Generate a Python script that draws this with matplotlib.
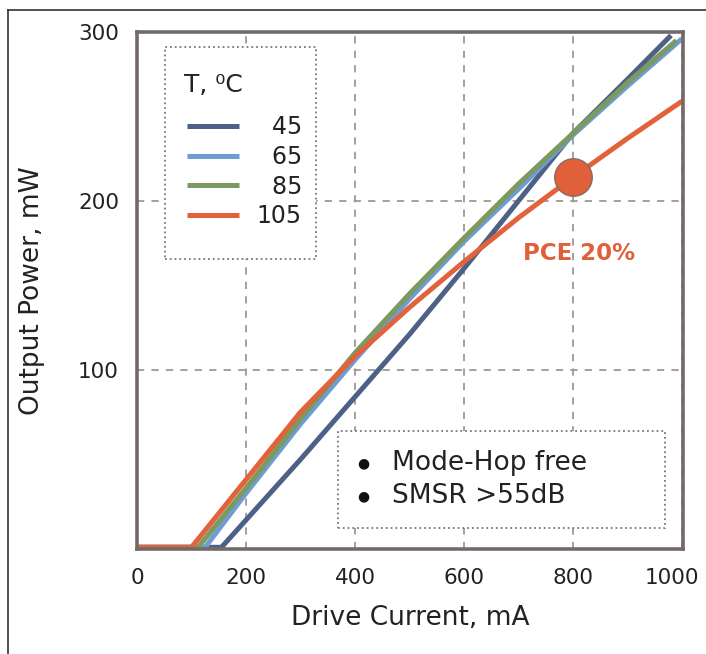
import matplotlib
matplotlib.use("Agg")
import matplotlib.pyplot as plt
from matplotlib.patches import Rectangle
from matplotlib.lines import Line2D
from matplotlib.transforms import offset_copy

plt.rcParams['font.family'] = ['DejaVu Sans']

# Data
temps = ['45', '65', '85', '105']
cur_45 = [0, 155, 300, 400, 500, 600, 700, 800, 900, 980]
pow_45 = [-5, -5, 47, 84, 121, 160, 200, 240, 272, 298]
cur_65 = [0, 125, 200, 300, 400, 500, 600, 700, 800, 900, 1000]
pow_65 = [-5, -5, 27, 68, 106, 142, 176, 207, 239, 268, 296]
cur_85 = [0, 112, 200, 300, 400, 500, 600, 700, 800, 900, 990]
pow_85 = [-5, -5, 30, 71, 110, 145, 178, 210, 240, 270, 295]
cur_105 = [0, 100, 200, 300, 400, 500, 600, 700, 800, 900, 1000]
pow_105 = [-5, -5, 35, 75, 108, 137, 164, 190, 214, 237, 259]
pce_point = (800, 214)
x_ticks = [0, 200, 400, 600, 800, 1000]
y_ticks = [100, 200, 300]
notes = ['Mode-Hop free', 'SMSR >55dB']
colors = ['#4d6186', '#6f9cd3', '#7a9a60', '#e2623c']

fig = plt.figure(figsize=(7.06, 6.54), dpi=100)
W, H = 706, 654
ax = fig.add_axes([137 / W, 1 - 549 / H, (683 - 137) / W, (549 - 32) / H])

# outer frame (left and top edges visible)
fig.add_artist(Line2D([8 / W, 8 / W], [0, 1 - 10 / H], transform=fig.transFigure, color='#333333', lw=1.2))
fig.add_artist(Line2D([8 / W, 1], [1 - 10 / H, 1 - 10 / H], transform=fig.transFigure, color='#333333', lw=1.2))

series = [(cur_45, pow_45), (cur_65, pow_65), (cur_85, pow_85), (cur_105, pow_105)]
handles = []
for (c, p), col, t in zip(series, colors, temps):
    h, = ax.plot(c, p, color=col, lw=3.6, solid_capstyle='butt', solid_joinstyle='round', label=t)
    handles.append(h)

ax.plot([pce_point[0]], [pce_point[1]], 'o', ms=27, color='#e0603a', mec='#8a6a60', mew=1.0, zorder=5)
ax.text(811, 169, 'PCE 20%', color='#e0603a', fontsize=16.5, fontweight='bold', ha='center', va='center')

ax.set_xlim(4, 1002)
ax.set_ylim(-6, 300)
ax.set_xticks(x_ticks)
ax.set_yticks(y_ticks)
ax.tick_params(length=0, labelsize=15.5, colors='#222222')
ax.tick_params(axis='x', pad=14)
ax.tick_params(axis='y', pad=13)
ax.grid(True, color='#9a9a9a', linestyle=(0, (4, 4)), lw=1.3)
ax.set_axisbelow(True)
for s in ax.spines.values():
    s.set_color('#736a68')
    s.set_linewidth(2.6)

fig.canvas.draw()
last = ax.get_xticklabels()[-1]
last.set_transform(offset_copy(last.get_transform(), fig=fig, x=-10, units='dots'))

ax.set_xlabel('Drive Current, mA', fontsize=19, labelpad=12, color='#222222')
ax.set_ylabel('Output Power, mW', fontsize=19, labelpad=24, color='#222222')

# legend
ax.add_patch(Rectangle((0.0513, 0.561), 0.2767, 0.41, transform=ax.transAxes, fill=True,
                       facecolor='white', edgecolor='#777777', ls=':', lw=1.3, zorder=6))
ax.text(0.086, 0.897, 'T, \u2070C', transform=ax.transAxes, fontsize=18, ha='left', va='center',
        color='#222222', zorder=7)
leg = ax.legend(handles=handles, labels=['\u2007' * (3 - len(t)) + t for t in temps],
                loc='upper left', bbox_to_anchor=(0.0916, 0.839),
                fontsize=17, frameon=False,
                handlelength=2.2, handletextpad=0.75, labelspacing=0.24,
                borderpad=0, borderaxespad=0)
leg.set_zorder(8)
for txt in leg.get_texts():
    txt.set_color('#222222')

# notes box
ax.add_patch(Rectangle((0.368, 0.041), 0.599, 0.187, transform=ax.transAxes, fill=True,
                       facecolor='white', edgecolor='#777777', ls=':', lw=1.3, zorder=6))
for yy, n in zip([0.166, 0.1025], notes):
    ax.text(0.414, yy, '\u25CF', transform=ax.transAxes, fontsize=10, ha='center', va='center', zorder=7,
            color='#111111')
    ax.text(0.467, yy, n, transform=ax.transAxes, fontsize=19, ha='left', va='center', zorder=7, color='#222222')

fig.savefig('out.png', dpi=100)
